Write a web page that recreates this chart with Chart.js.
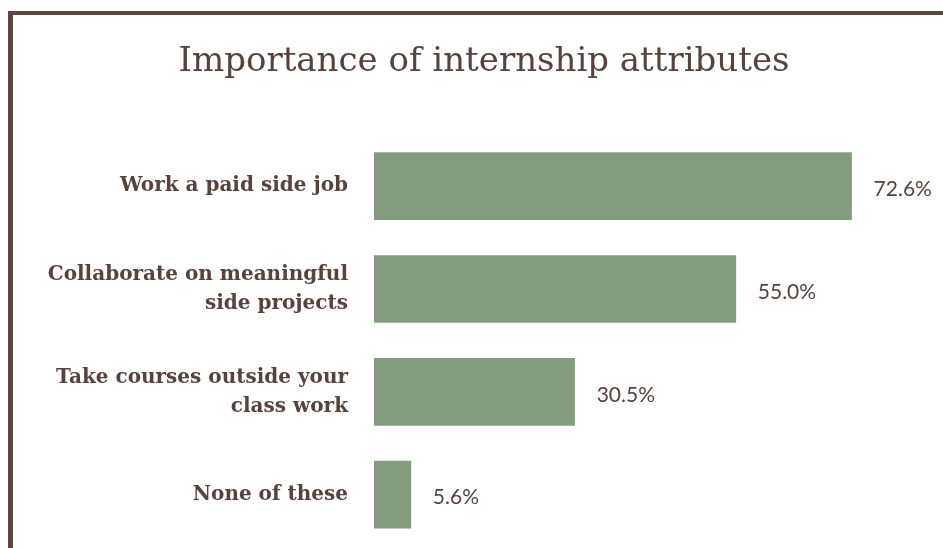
<!DOCTYPE html>
<html>
<head>
<meta charset="utf-8">
<script src="https://cdn.jsdelivr.net/npm/chart.js@4.4.1/dist/chart.umd.min.js"></script>
<style>
  html, body { margin: 0; padding: 0; background: #fff; }
  body { width: 943px; height: 548px; overflow: hidden; position: relative; }
  .frame {
    position: absolute; left: 8px; top: 11px; right: 0; bottom: 0;
    border-top: 4px solid #5a4741; border-left: 5px solid #5a4741;
  }
  .wrap { position: absolute; left: 13px; top: 15px; width: 930px; height: 533px; }
</style>
</head>
<body>
<div class="frame"></div>
<div class="wrap"><canvas id="chart" width="930" height="533"></canvas></div>
<script>
const categories = [
  ['Work a paid side job'],
  ['Collaborate on meaningful', 'side projects'],
  ['Take courses outside your', 'class work'],
  ['None of these']
];
const shares = [72.6, 55.0, 30.5, 5.6];
const valueLabels = ['72.6%', '55.0%', '30.5%', '5.6%'];

const textColor = '#54433e';
const barColor = '#859b80';

// value text to the right of each bar
const barValues = {
  id: 'barValues',
  afterDatasetsDraw(chart) {
    const ctx = chart.ctx;
    const meta = chart.getDatasetMeta(0);
    ctx.save();
    ctx.font = '400 21px Lato, sans-serif';
    ctx.fillStyle = textColor;
    ctx.textAlign = 'left';
    ctx.textBaseline = 'middle';
    meta.data.forEach((bar, i) => {
      ctx.fillText(valueLabels[i], bar.x + 22, bar.y + 3);
    });
    ctx.restore();
  }
};

new Chart(document.getElementById('chart'), {
  type: 'bar',
  data: {
    labels: categories,
    datasets: [{
      data: shares,
      backgroundColor: barColor,
      borderWidth: 0,
      barThickness: 67
    }]
  },
  options: {
    indexAxis: 'y',
    responsive: false,
    animation: false,
    layout: { padding: { top: 0, right: 0, bottom: 2, left: 12 } },
    plugins: {
      legend: { display: false },
      tooltip: { enabled: false },
      title: {
        display: true,
        text: 'Importance of internship attributes',
        color: textColor,
        font: { family: "'DejaVu Serif', serif", size: 34, weight: 'normal', lineHeight: 1.2 },
        padding: { top: 27, bottom: 52 }
      }
    },
    scales: {
      x: {
        display: false,
        min: 0,
        max: 86.5
      },
      y: {
        grid: { display: false, drawTicks: false },
        border: { display: false },
        afterFit(scale) {
          scale.width = 349;
          scale.paddingTop = 0;
          scale.paddingBottom = 0;
        },
        ticks: {
          color: textColor,
          padding: 26,
          font: { family: "'DejaVu Serif', serif", size: 20, weight: 'bold', lineHeight: 1.45 }
        }
      }
    }
  },
  plugins: [barValues]
});
</script>
</body>
</html>
